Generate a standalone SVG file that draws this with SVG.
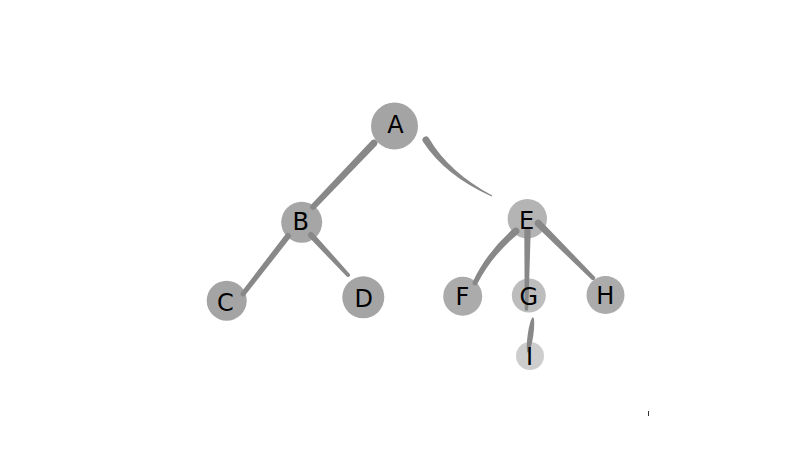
<svg xmlns="http://www.w3.org/2000/svg" width="800" height="450" viewBox="0 0 800 450">
<style>
.edge{fill:#888888;stroke:none}
.node circle{fill:#888888}
.node text{font-family:"DejaVu Sans","Liberation Sans",sans-serif;font-size:24px;fill:#000000;text-anchor:middle}
</style>
<rect x="0" y="0" width="800" height="450" fill="#ffffff"/>
<g id="connectors">
<path id="edge-A-B" class="edge" d="M371.47,140.59 L310.83,204.93 A3,3 0 0 0 315.17,209.07 L376.53,145.42 A3.5,3.5 0 0 0 371.47,140.59 Z"/>
<path id="edge-A-E" class="edge" d="M423.02,141.84 Q445.26,175.93 491.74,196.54 L492.26,195.46 Q448.74,172.07 428.98,138.16 A3.5,3.5 0 0 0 423.02,141.84 Z"/>
<path id="edge-B-C" class="edge" d="M285.63,234.16 L241.03,292.47 A2.5,2.5 0 0 0 244.98,295.53 L290.37,237.84 A3,3 0 0 0 285.63,234.16 Z"/>
<path id="edge-B-D" class="edge" d="M308.80,237.04 L346.53,276.36 A2,2 0 0 0 349.47,273.64 L313.20,232.96 A3,3 0 0 0 308.80,237.04 Z"/>
<path id="edge-E-F" class="edge" d="M513.73,228.34 Q486.62,252.17 472.75,281.91 A2.5,2.5 0 0 0 477.25,284.09 Q491.38,255.83 518.27,233.66 A3.5,3.5 0 0 0 513.73,228.34 Z"/>
<path id="edge-E-G" class="edge" d="M524.3,231 L524.7,309 A1.8,1.8 0 0 0 528.3,309 L530.7,231 A3.2,3.2 0 0 0 524.3,231 Z"/>
<path id="edge-E-H" class="edge" d="M535.53,225.47 L591.44,279.56 A2.2,2.2 0 0 0 594.56,276.44 L540.47,220.53 A3.5,3.5 0 0 0 535.53,225.47 Z"/>
<ellipse id="edge-G-I" class="edge" cx="530.5" cy="335" rx="2.8" ry="18" transform="rotate(8 530.5 335)"/>
</g>
<g id="node-A" class="node"><circle cx="394.5" cy="126" r="23.5" fill-opacity="0.77"/><text x="395.5" y="132.5">A</text></g>
<g id="node-B" class="node"><circle cx="301.7" cy="222.3" r="20.5" fill-opacity="0.75"/><text x="300.8" y="230">B</text></g>
<g id="node-C" class="node"><circle cx="226.7" cy="300.7" r="20" fill-opacity="0.77"/><text x="225.5" y="310.5">C</text></g>
<g id="node-D" class="node"><circle cx="363.3" cy="297.3" r="21" fill-opacity="0.77"/><text x="363.7" y="306.5">D</text></g>
<g id="node-E" class="node"><circle cx="527.3" cy="218.8" r="19.7" fill-opacity="0.63"/><text x="526.5" y="228.5">E</text></g>
<g id="node-F" class="node"><circle cx="462.7" cy="296.3" r="19.5" fill-opacity="0.71"/><text x="462.5" y="305">F</text></g>
<g id="node-G" class="node"><circle cx="528.8" cy="295.5" r="17" fill-opacity="0.555"/><text x="528.7" y="305">G</text></g>
<g id="node-H" class="node"><circle cx="605.5" cy="295" r="19" fill-opacity="0.7"/><text x="605.3" y="303.5">H</text></g>
<g id="node-I" class="node"><circle cx="530" cy="356" r="14" fill-opacity="0.42"/><text x="529.5" y="365">I</text></g>
<rect x="648" y="411" width="1" height="5" fill="#333333"/>
</svg>
